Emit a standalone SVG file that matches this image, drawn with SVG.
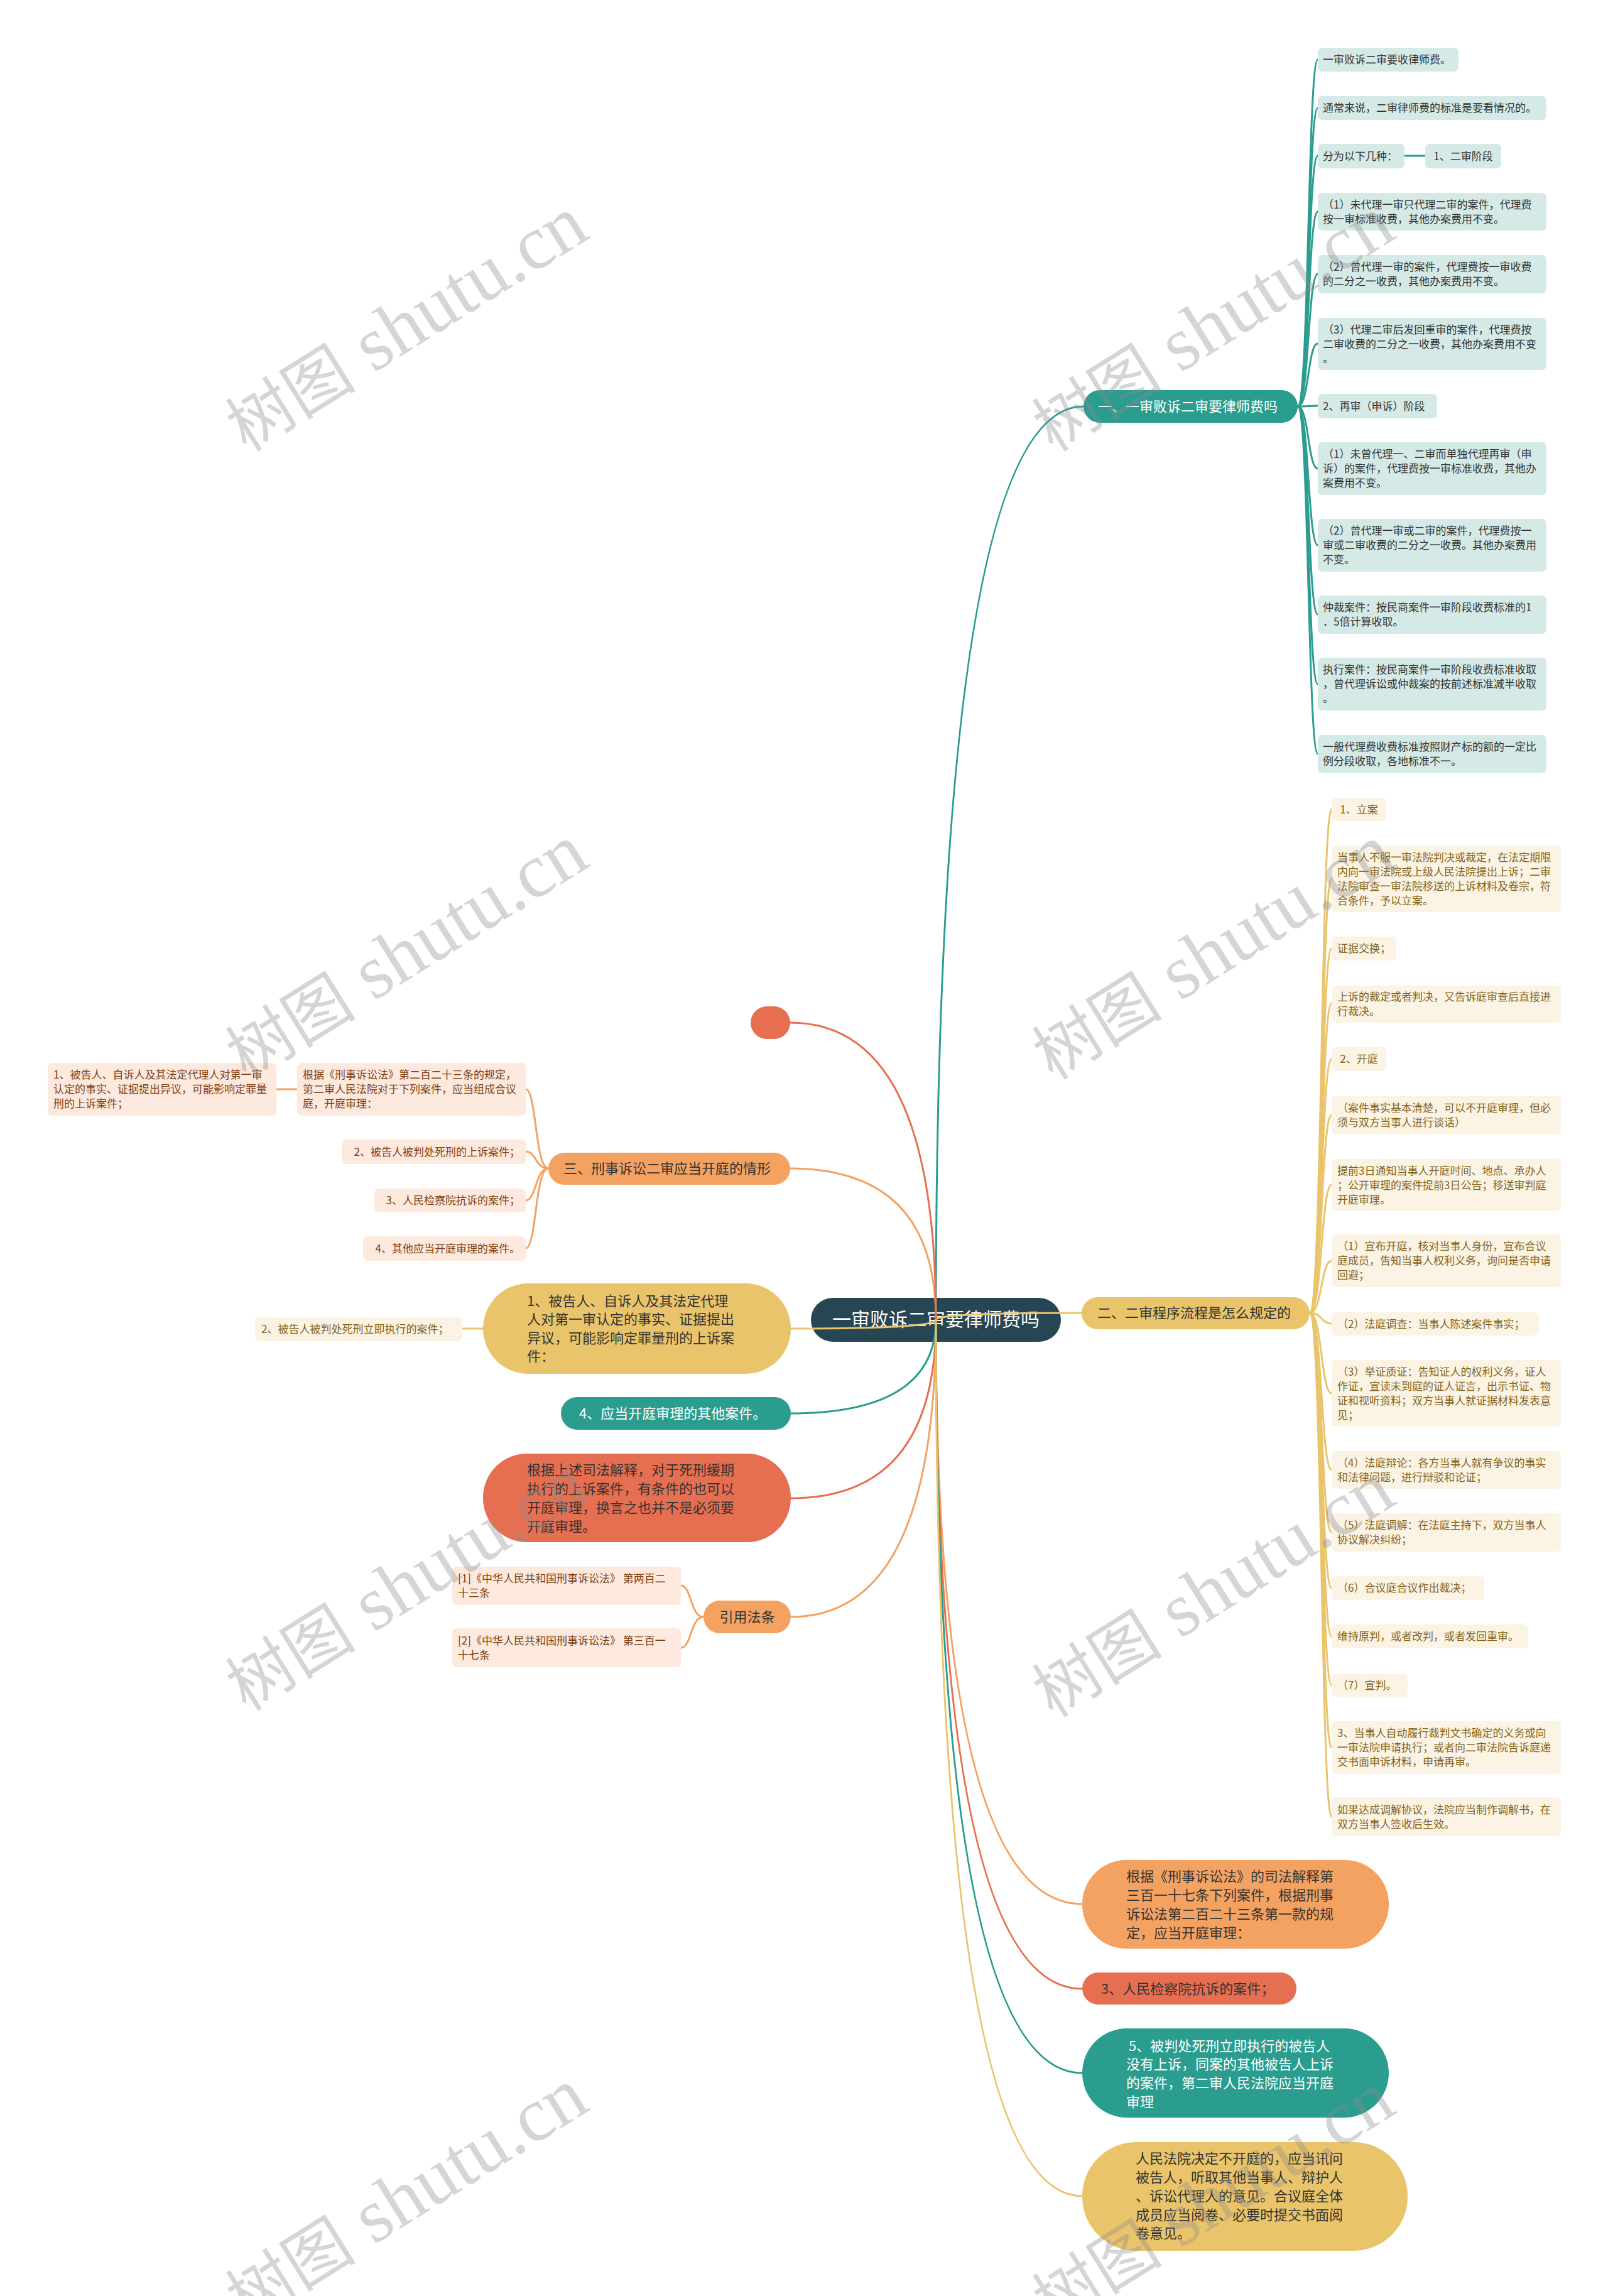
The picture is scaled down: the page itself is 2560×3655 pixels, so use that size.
<svg xmlns="http://www.w3.org/2000/svg" width="2560" height="3655" viewBox="0 0 2560 3655">
<style>
text{font-family:"Noto Sans CJK SC","Noto Sans",sans-serif}
.s{font-size:17px}
.b{font-size:22px}
.tl{fill:#333}
.yl{fill:#84641a}
.ol{fill:#7e3f14}
.w{fill:#fff}
.d{fill:#333}
.tb{fill:#d5eae7}
.yb{fill:#fbf3e3}
.ob{fill:#fde9de}
.c{fill:none;stroke-width:3;stroke-linecap:round}
.cT{stroke:#2a9d8f}.cY{stroke:#e9c46a}.cO{stroke:#f4a261}.cR{stroke:#e76f51}
.wm{font-family:"Liberation Serif","Noto Sans CJK SC",serif;font-size:122px;fill:#8c8c8c;opacity:.36}
.wc{font-family:"Noto Sans CJK SC",serif;font-size:104px}
</style>
<rect width="2560" height="3655" fill="#fff"/>

<g id="root">
<rect x="1291" y="2066" width="398" height="70" rx="35" fill="#264653"/>
<text x="1490" y="2111" text-anchor="middle" class="w" font-size="30">一审败诉二审要律师费吗</text>
</g>

<g id="connectors">
<path class="c cT" d="M1490 2101 Q1490 647 1725 647"/>
<path class="c cY" d="M1490 2101 Q1490 2090 1722 2090"/>
<path class="c cO" d="M1490 2101 Q1490 1860 1258 1860"/>
<path class="c cR" d="M1490 2101 Q1490 1628 1258 1628"/>
<path class="c cY" d="M1490 2101 Q1490 2115 1259 2115"/>
<path class="c cT" d="M1490 2101 Q1490 2250 1259 2250"/>
<path class="c cR" d="M1490 2101 Q1490 2385 1259 2385"/>
<path class="c cO" d="M1490 2101 Q1490 2574 1259 2574"/>
<path class="c cO" d="M1490 2101 Q1490 3031 1723 3031"/>
<path class="c cR" d="M1490 2101 Q1490 3166 1723 3166"/>
<path class="c cT" d="M1490 2101 Q1490 3300 1723 3300"/>
<path class="c cY" d="M1490 2101 Q1490 3496 1723 3496"/>
<path class="c cT" d="M2066 647 C2084 647 2082 95 2098 95"/>
<path class="c cT" d="M2066 647 C2084 647 2082 172 2098 172"/>
<path class="c cT" d="M2066 647 C2084 647 2082 248 2098 248"/>
<path class="c cT" d="M2236 248 L2269 248"/>
<path class="c cT" d="M2066 647 C2084 647 2082 337 2098 337"/>
<path class="c cT" d="M2066 647 C2084 647 2082 436 2098 436"/>
<path class="c cT" d="M2066 647 C2084 647 2082 547 2098 547"/>
<path class="c cT" d="M2066 647 C2084 647 2082 646 2098 646"/>
<path class="c cT" d="M2066 647 C2084 647 2082 746 2098 746"/>
<path class="c cT" d="M2066 647 C2084 647 2082 868 2098 868"/>
<path class="c cT" d="M2066 647 C2084 647 2082 978 2098 978"/>
<path class="c cT" d="M2066 647 C2084 647 2082 1089 2098 1089"/>
<path class="c cT" d="M2066 647 C2084 647 2082 1200 2098 1200"/>
<path class="c cY" d="M2085 2090 C2105 2090 2103 1288 2120 1288"/>
<path class="c cY" d="M2085 2090 C2105 2090 2103 1399 2120 1399"/>
<path class="c cY" d="M2085 2090 C2105 2090 2103 1510 2120 1510"/>
<path class="c cY" d="M2085 2090 C2105 2090 2103 1598 2120 1598"/>
<path class="c cY" d="M2085 2090 C2105 2090 2103 1686 2120 1686"/>
<path class="c cY" d="M2085 2090 C2105 2090 2103 1775 2120 1775"/>
<path class="c cY" d="M2085 2090 C2105 2090 2103 1886 2120 1886"/>
<path class="c cY" d="M2085 2090 C2105 2090 2103 2007 2120 2007"/>
<path class="c cY" d="M2085 2090 C2105 2090 2103 2107 2120 2107"/>
<path class="c cY" d="M2085 2090 C2105 2090 2103 2218 2120 2218"/>
<path class="c cY" d="M2085 2090 C2105 2090 2103 2340 2120 2340"/>
<path class="c cY" d="M2085 2090 C2105 2090 2103 2439 2120 2439"/>
<path class="c cY" d="M2085 2090 C2105 2090 2103 2528 2120 2528"/>
<path class="c cY" d="M2085 2090 C2105 2090 2103 2605 2120 2605"/>
<path class="c cY" d="M2085 2090 C2105 2090 2103 2683 2120 2683"/>
<path class="c cY" d="M2085 2090 C2105 2090 2103 2782 2120 2782"/>
<path class="c cY" d="M2085 2090 C2105 2090 2103 2892 2120 2892"/>
<path class="c cO" stroke-width="2" d="M873 1860 C852 1860 854 1734 837 1734"/>
<path class="c cO" d="M473 1734 L440 1734"/>
<path class="c cO" stroke-width="2" d="M873 1860 C852 1860 854 1833 837 1833"/>
<path class="c cO" stroke-width="2" d="M873 1860 C852 1860 854 1911 837 1911"/>
<path class="c cO" stroke-width="2" d="M873 1860 C852 1860 854 1987 837 1987"/>
<path class="c cY" d="M770 2115 L736 2115"/>
<path class="c cO" stroke-width="2" d="M1120 2574 C1099 2574 1101 2524 1084 2524"/>
<path class="c cO" stroke-width="2" d="M1120 2574 C1099 2574 1101 2623 1084 2623"/>
</g>

<g id="b1">
<rect x="1725" y="621" width="341" height="52" rx="26" fill="#2a9d8f"/>
<text x="1748" y="655" class="b w">一、一审败诉二审要律师费吗</text>
</g>
<g id="t1"><rect class="tb" x="2098" y="76" width="224" height="38" rx="7"/><text class="s tl" x="2106" y="101">一审败诉二审要收律师费。</text></g>
<g id="t2"><rect class="tb" x="2098" y="153" width="364" height="38" rx="7"/><text class="s tl" x="2106" y="178">通常来说，二审律师费的标准是要看情况的。</text></g>
<g id="t3"><rect class="tb" x="2098" y="229" width="138" height="39" rx="7"/><text class="s tl" x="2106" y="254.5">分为以下几种：</text></g>
<g id="t3a"><rect class="tb" x="2269" y="229" width="121" height="39" rx="7"/><text class="s tl" x="2329.5" y="254.5" text-anchor="middle">1、二审阶段</text></g>
<g id="t4"><rect class="tb" x="2098" y="307" width="364" height="60" rx="7"/><text class="s tl"><tspan x="2106" y="331.5">（1）未代理一审只代理二审的案件，代理费</tspan><tspan x="2106" y="354.5">按一审标准收费，其他办案费用不变。</tspan></text></g>
<g id="t5"><rect class="tb" x="2098" y="406" width="364" height="61" rx="7"/><text class="s tl"><tspan x="2106" y="431">（2）曾代理一审的案件，代理费按一审收费</tspan><tspan x="2106" y="454">的二分之一收费，其他办案费用不变。</tspan></text></g>
<g id="t6"><rect class="tb" x="2098" y="506" width="364" height="83" rx="7"/><text class="s tl"><tspan x="2106" y="530.5">（3）代理二审后发回重审的案件，代理费按</tspan><tspan x="2106" y="553.5">二审收费的二分之一收费，其他办案费用不变</tspan><tspan x="2106" y="576.5">。</tspan></text></g>
<g id="t7"><rect class="tb" x="2098" y="627" width="190" height="39" rx="7"/><text class="s tl" x="2106" y="652.5">2、再审（申诉）阶段</text></g>
<g id="t8"><rect class="tb" x="2098" y="704" width="364" height="84" rx="7"/><text class="s tl"><tspan x="2106" y="729">（1）未曾代理一、二审而单独代理再审（申</tspan><tspan x="2106" y="752">诉）的案件，代理费按一审标准收费，其他办</tspan><tspan x="2106" y="775">案费用不变。</tspan></text></g>
<g id="t9"><rect class="tb" x="2098" y="826" width="364" height="84" rx="7"/><text class="s tl"><tspan x="2106" y="851">（2）曾代理一审或二审的案件，代理费按一</tspan><tspan x="2106" y="874">审或二审收费的二分之一收费。其他办案费用</tspan><tspan x="2106" y="897">不变。</tspan></text></g>
<g id="t10"><rect class="tb" x="2098" y="948" width="364" height="61" rx="7"/><text class="s tl"><tspan x="2106" y="973">仲裁案件：按民商案件一审阶段收费标准的1</tspan><tspan x="2106" y="996">．5倍计算收取。</tspan></text></g>
<g id="t11"><rect class="tb" x="2098" y="1047" width="364" height="84" rx="7"/><text class="s tl"><tspan x="2106" y="1072">执行案件：按民商案件一审阶段收费标准收取</tspan><tspan x="2106" y="1095">，曾代理诉讼或仲裁案的按前述标准减半收取</tspan><tspan x="2106" y="1118">。</tspan></text></g>
<g id="t12"><rect class="tb" x="2098" y="1170" width="364" height="61" rx="7"/><text class="s tl"><tspan x="2106" y="1195">一般代理费收费标准按照财产标的额的一定比</tspan><tspan x="2106" y="1218">例分段收取，各地标准不一。</tspan></text></g>

<g id="b2">
<rect x="1722" y="2065" width="363" height="51" rx="25.5" fill="#e9c46a"/>
<text x="1747" y="2098" class="b d">二、二审程序流程是怎么规定的</text>
</g>
<g id="ya"><rect class="yb" x="2120" y="1270" width="87" height="37" rx="7"/><text class="s yl" x="2163.5" y="1294.5" text-anchor="middle">1、立案</text></g>
<g id="yb"><rect class="yb" x="2120" y="1346" width="365" height="106" rx="7"/><text class="s yl"><tspan x="2129" y="1370.5">当事人不服一审法院判决或裁定，在法定期限</tspan><tspan x="2129" y="1393.5">内向一审法院或上级人民法院提出上诉；二审</tspan><tspan x="2129" y="1416.5">法院审查一审法院移送的上诉材料及卷宗，符</tspan><tspan x="2129" y="1439.5">合条件，予以立案。</tspan></text></g>
<g id="yc"><rect class="yb" x="2120" y="1491" width="103" height="38" rx="7"/><text class="s yl" x="2129" y="1516">证据交换；</text></g>
<g id="yd"><rect class="yb" x="2120" y="1569" width="365" height="59" rx="7"/><text class="s yl"><tspan x="2129" y="1593">上诉的裁定或者判决，又告诉庭审查后直接进</tspan><tspan x="2129" y="1616">行裁决。</tspan></text></g>
<g id="ye"><rect class="yb" x="2120" y="1667" width="87" height="38" rx="7"/><text class="s yl" x="2163.5" y="1692" text-anchor="middle">2、开庭</text></g>
<g id="yf"><rect class="yb" x="2120" y="1744" width="365" height="62" rx="7"/><text class="s yl"><tspan x="2129" y="1769.5">（案件事实基本清楚，可以不开庭审理，但必</tspan><tspan x="2129" y="1792.5">须与双方当事人进行谈话）</tspan></text></g>
<g id="yg"><rect class="yb" x="2120" y="1845" width="365" height="83" rx="7"/><text class="s yl"><tspan x="2129" y="1869.5">提前3日通知当事人开庭时间、地点、承办人</tspan><tspan x="2129" y="1892.5">；公开审理的案件提前3日公告；移送审判庭</tspan><tspan x="2129" y="1915.5">开庭审理。</tspan></text></g>
<g id="yh"><rect class="yb" x="2120" y="1965" width="365" height="84" rx="7"/><text class="s yl"><tspan x="2129" y="1990">（1）宣布开庭，核对当事人身份，宣布合议</tspan><tspan x="2129" y="2013">庭成员，告知当事人权利义务，询问是否申请</tspan><tspan x="2129" y="2036">回避；</tspan></text></g>
<g id="yi"><rect class="yb" x="2120" y="2089" width="330" height="37" rx="7"/><text class="s yl" x="2129" y="2113.5">（2）法庭调查：当事人陈述案件事实；</text></g>
<g id="yj"><rect class="yb" x="2120" y="2165" width="365" height="106" rx="7"/><text class="s yl"><tspan x="2129" y="2189.5">（3）举证质证：告知证人的权利义务，证人</tspan><tspan x="2129" y="2212.5">作证，宣读未到庭的证人证言，出示书证、物</tspan><tspan x="2129" y="2235.5">证和视听资料；双方当事人就证据材料发表意</tspan><tspan x="2129" y="2258.5">见；</tspan></text></g>
<g id="yk"><rect class="yb" x="2120" y="2310" width="365" height="60" rx="7"/><text class="s yl"><tspan x="2129" y="2334.5">（4）法庭辩论：各方当事人就有争议的事实</tspan><tspan x="2129" y="2357.5">和法律问题，进行辩驳和论证；</tspan></text></g>
<g id="yl"><rect class="yb" x="2120" y="2409" width="365" height="61" rx="7"/><text class="s yl"><tspan x="2129" y="2434">（5）法庭调解：在法庭主持下，双方当事人</tspan><tspan x="2129" y="2457">协议解决纠纷；</tspan></text></g>
<g id="ym"><rect class="yb" x="2120" y="2509" width="243" height="38" rx="7"/><text class="s yl" x="2129" y="2534">（6）合议庭合议作出裁决；</text></g>
<g id="yn"><rect class="yb" x="2120" y="2586" width="313" height="38" rx="7"/><text class="s yl" x="2129" y="2611">维持原判，或者改判，或者发回重审。</text></g>
<g id="yo"><rect class="yb" x="2120" y="2664" width="121" height="38" rx="7"/><text class="s yl" x="2129" y="2689">（7）宣判。</text></g>
<g id="yp"><rect class="yb" x="2120" y="2740" width="365" height="84" rx="7"/><text class="s yl"><tspan x="2129" y="2765">3、当事人自动履行裁判文书确定的义务或向</tspan><tspan x="2129" y="2788">一审法院申请执行；或者向二审法院告诉庭递</tspan><tspan x="2129" y="2811">交书面申诉材料，申请再审。</tspan></text></g>
<g id="yq"><rect class="yb" x="2120" y="2861" width="365" height="62" rx="7"/><text class="s yl"><tspan x="2129" y="2886.5">如果达成调解协议，法院应当制作调解书，在</tspan><tspan x="2129" y="2909.5">双方当事人签收后生效。</tspan></text></g>

<g id="b3">
<rect x="873" y="1835" width="385" height="51" rx="25.5" fill="#f4a261"/>
<text x="897" y="1868" class="b d">三、刑事诉讼二审应当开庭的情形</text>
</g>
<g id="o1"><rect class="ob" x="473" y="1692" width="364" height="84" rx="7"/><text class="s ol"><tspan x="482" y="1717">根据《刑事诉讼法》第二百二十三条的规定，</tspan><tspan x="482" y="1740">第二审人民法院对于下列案件，应当组成合议</tspan><tspan x="482" y="1763">庭，开庭审理：</tspan></text></g>
<g id="o1a"><rect class="ob" x="76" y="1692" width="364" height="84" rx="7"/><text class="s ol"><tspan x="85" y="1717">1、被告人、自诉人及其法定代理人对第一审</tspan><tspan x="85" y="1740">认定的事实、证据提出异议，可能影响定罪量</tspan><tspan x="85" y="1763">刑的上诉案件；</tspan></text></g>
<g id="o2"><rect class="ob" x="544" y="1814" width="293" height="39" rx="7"/><text class="s ol" x="828" y="1839.5" text-anchor="end">2、被告人被判处死刑的上诉案件；</text></g>
<g id="o3"><rect class="ob" x="596" y="1892" width="241" height="38" rx="7"/><text class="s ol" x="828" y="1917" text-anchor="end">3、人民检察院抗诉的案件；</text></g>
<g id="o4"><rect class="ob" x="578" y="1968" width="259" height="39" rx="7"/><text class="s ol" x="828" y="1993.5" text-anchor="end">4、其他应当开庭审理的案件。</text></g>

<g id="n_red_empty"><rect x="1195" y="1602" width="63" height="52" rx="26" fill="#e76f51"/></g>
<g id="n_yellow1">
<rect x="769" y="2043" width="490" height="144" rx="72" fill="#e9c46a"/>
<text class="b d"><tspan x="839" y="2079">1、被告人、自诉人及其法定代理</tspan><tspan x="839" y="2108">人对第一审认定的事实、证据提出</tspan><tspan x="839" y="2138">异议，可能影响定罪量刑的上诉案</tspan><tspan x="839" y="2167">件：</tspan></text>
</g>
<g id="n_yellow1_child"><rect class="yb" x="406" y="2096" width="330" height="39" rx="7"/><text class="s yl" x="416" y="2121.5">2、被告人被判处死刑立即执行的案件；</text></g>
<g id="n_teal4">
<rect x="893" y="2224" width="366" height="52" rx="26" fill="#2a9d8f"/>
<text x="922" y="2258" class="b w">4、应当开庭审理的其他案件。</text>
</g>
<g id="n_red1">
<rect x="769" y="2314" width="490" height="141" rx="70" fill="#e76f51"/>
<text class="b d"><tspan x="839" y="2348">根据上述司法解释，对于死刑缓期</tspan><tspan x="839" y="2378">执行的上诉案件，有条件的也可以</tspan><tspan x="839" y="2408">开庭审理，换言之也并不是必须要</tspan><tspan x="839" y="2438">开庭审理。</tspan></text>
</g>
<g id="n_cite">
<rect x="1120" y="2548" width="139" height="52" rx="26" fill="#f4a261"/>
<text x="1189.5" y="2582" text-anchor="middle" class="b d">引用法条</text>
</g>
<g id="cite1"><rect class="ob" x="720" y="2494" width="364" height="61" rx="7"/><text class="s ol"><tspan x="729" y="2519">[1]《中华人民共和国刑事诉讼法》 第两百二</tspan><tspan x="729" y="2542">十三条</tspan></text></g>
<g id="cite2"><rect class="ob" x="720" y="2592" width="364" height="62" rx="7"/><text class="s ol"><tspan x="729" y="2617.5">[2]《中华人民共和国刑事诉讼法》 第三百一</tspan><tspan x="729" y="2640.5">十七条</tspan></text></g>

<g id="n_orange2">
<rect x="1723" y="2961" width="488" height="141" rx="70" fill="#f4a261"/>
<text class="b d"><tspan x="1793" y="2995">根据《刑事诉讼法》的司法解释第</tspan><tspan x="1793" y="3025">三百一十七条下列案件，根据刑事</tspan><tspan x="1793" y="3055">诉讼法第二百二十三条第一款的规</tspan><tspan x="1793" y="3085">定，应当开庭审理：</tspan></text>
</g>
<g id="n_red3">
<rect x="1723" y="3140" width="341" height="51" rx="25.5" fill="#e76f51"/>
<text x="1753" y="3173.5" class="b d">3、人民检察院抗诉的案件；</text>
</g>
<g id="n_teal5">
<rect x="1723" y="3229" width="488" height="142" rx="71" fill="#2a9d8f"/>
<text class="b w"><tspan x="1797" y="3265">5、被判处死刑立即执行的被告人</tspan><tspan x="1793" y="3294">没有上诉，同案的其他被告人上诉</tspan><tspan x="1793" y="3324">的案件，第二审人民法院应当开庭</tspan><tspan x="1793" y="3354">审理</tspan></text>
</g>
<g id="n_yellow5">
<rect x="1723" y="3410" width="518" height="173" rx="86" fill="#e9c46a"/>
<text class="b d"><tspan x="1808" y="3444">人民法院决定不开庭的，应当讯问</tspan><tspan x="1808" y="3474">被告人，听取其他当事人、辩护人</tspan><tspan x="1808" y="3504">、诉讼代理人的意见。合议庭全体</tspan><tspan x="1808" y="3534">成员应当阅卷、必要时提交书面阅</tspan><tspan x="1808" y="3563">卷意见。</tspan></text>
</g>

<g id="watermarks">
<text class="wm" x="646" y="555" text-anchor="middle" transform="rotate(-32 646 515)"><tspan class="wc">树图</tspan> shutu.cn</text>
<text class="wm" x="646" y="1555" text-anchor="middle" transform="rotate(-32 646 1515)"><tspan class="wc">树图</tspan> shutu.cn</text>
<text class="wm" x="646" y="2560" text-anchor="middle" transform="rotate(-32 646 2520)"><tspan class="wc">树图</tspan> shutu.cn</text>
<text class="wm" x="646" y="3535" text-anchor="middle" transform="rotate(-32 646 3495)"><tspan class="wc">树图</tspan> shutu.cn</text>
<text class="wm" x="1930" y="555" text-anchor="middle" transform="rotate(-32 1930 515)"><tspan class="wc">树图</tspan> shutu.cn</text>
<text class="wm" x="1930" y="1555" text-anchor="middle" transform="rotate(-32 1930 1515)"><tspan class="wc">树图</tspan> shutu.cn</text>
<text class="wm" x="1930" y="2570" text-anchor="middle" transform="rotate(-32 1930 2530)"><tspan class="wc">树图</tspan> shutu.cn</text>
<text class="wm" x="1930" y="3540" text-anchor="middle" transform="rotate(-32 1930 3500)"><tspan class="wc">树图</tspan> shutu.cn</text>
</g>
</svg>
